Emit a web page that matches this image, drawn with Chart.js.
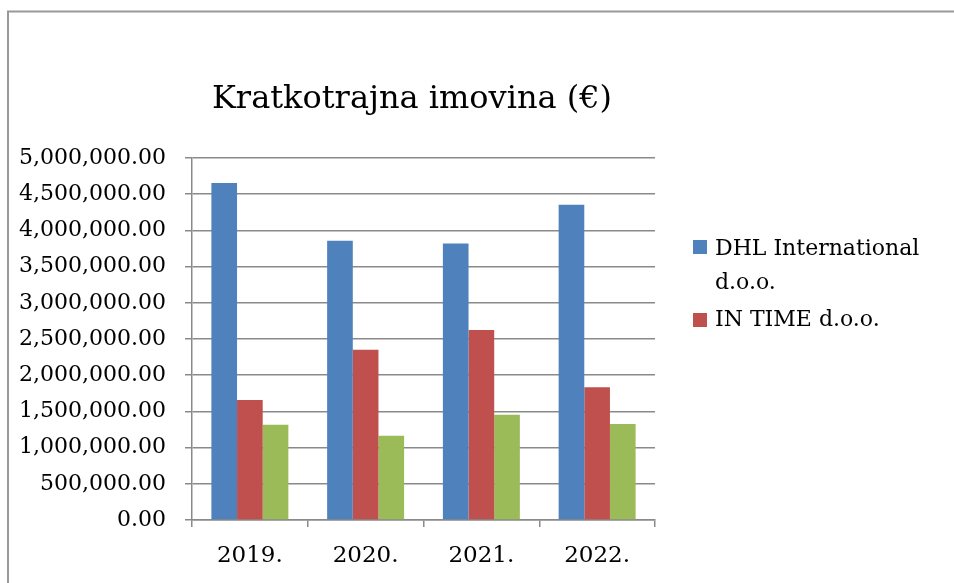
<!DOCTYPE html>
<html><head><meta charset="utf-8">
<script src="https://cdn.jsdelivr.net/npm/chart.js@4"></script>
<style>html,body{margin:0;padding:0;background:#fff;}#wrap{width:954px;height:583px;position:relative;overflow:hidden}</style>
</head><body><div id="wrap"><canvas id="c" width="954" height="583"></canvas></div>
<script>
const titleText = 'Kratkotrajna imovina (€)';
const categories = ['2019.', '2020.', '2021.', '2022.'];
const seriesNames = ['DHL International d.o.o.', 'IN TIME d.o.o.', ''];
const legendLines = [['DHL International', 'd.o.o.'], ['IN TIME d.o.o.']];
const dhlValues = [4655000, 3858000, 3820000, 4355000];
const inTimeValues = [1657000, 2352000, 2624000, 1832000];
const thirdValues = [1316000, 1164000, 1454000, 1326000];
const yTickLabels = ['0.00', '500,000.00', '1,000,000.00', '1,500,000.00', '2,000,000.00', '2,500,000.00',
  '3,000,000.00', '3,500,000.00', '4,000,000.00', '4,500,000.00', '5,000,000.00'];
const colors = ['#4F81BD', '#C0504D', '#9BBB59'];

const FONT = 'DejaVu Serif';
const gridColor = '#8a8a8a';

const decor = {
  id: 'decor',
  beforeDraw(chart) {
    const ctx = chart.ctx;
    ctx.save();
    ctx.fillStyle = '#fff';
    ctx.fillRect(0, 0, chart.width, chart.height);
    ctx.strokeStyle = '#999';
    ctx.lineWidth = 2;
    ctx.beginPath();
    ctx.moveTo(8, chart.height + 5);
    ctx.lineTo(8, 11.5);
    ctx.lineTo(chart.width + 5, 11.5);
    ctx.stroke();
    ctx.restore();
  },
  afterDraw(chart) {
    const ctx = chart.ctx;
    ctx.save();
    ctx.fillStyle = '#000';
    ctx.font = '32px "' + FONT + '"';
    ctx.textAlign = 'center';
    ctx.textBaseline = 'alphabetic';
    ctx.fillText(titleText, 412, 108);
    // legend
    ctx.font = '22px "' + FONT + '"';
    ctx.textAlign = 'left';
    ctx.textBaseline = 'middle';
    const rows = [{box: 240, lines: [249, 283]}, {box: 313, lines: [320]}];
    legendLines.forEach((lines, i) => {
      ctx.fillStyle = chart.data.datasets[i].backgroundColor;
      ctx.fillRect(693, rows[i].box, 14, 14);
      ctx.fillStyle = '#000';
      lines.forEach((t, j) => ctx.fillText(t, 715, rows[i].lines[j]));
    });
    ctx.restore();
  }
};

new Chart(document.getElementById('c'), {
  type: 'bar',
  data: {
    labels: categories,
    datasets: [
      {label: seriesNames[0], data: dhlValues, backgroundColor: colors[0]},
      {label: seriesNames[1], data: inTimeValues, backgroundColor: colors[1]},
      {label: seriesNames[2], data: thirdValues, backgroundColor: colors[2]}
    ]
  },
  options: {
    responsive: false,
    animation: false,
    devicePixelRatio: 1,
    categoryPercentage: 0.665,
    barPercentage: 1,
    layout: {padding: {left: 0, top: 158, right: 299, bottom: 13}},
    plugins: {legend: {display: false}, title: {display: false}, tooltip: {enabled: false}},
    scales: {
      x: {
        grid: {offset: true, drawOnChartArea: false, drawTicks: true, tickLength: 7, color: gridColor, lineWidth: 1.5},
        border: {display: true, color: gridColor, width: 1.5},
        ticks: {font: {family: FONT, size: 23}, color: '#000', padding: 15, maxRotation: 0},
        afterFit(s) { s.height = 50; }
      },
      y: {
        min: 0, max: 5000000,
        grid: {drawTicks: true, tickLength: 7, color: gridColor, lineWidth: 1.5},
        border: {display: true, color: gridColor, width: 1.5},
        ticks: {stepSize: 500000, font: {family: FONT, size: 22}, color: '#000', padding: 19,
          callback: (v, i) => yTickLabels[i]},
        afterFit(s) { s.width = 192; }
      }
    }
  },
  plugins: [decor]
});
</script></body></html>
